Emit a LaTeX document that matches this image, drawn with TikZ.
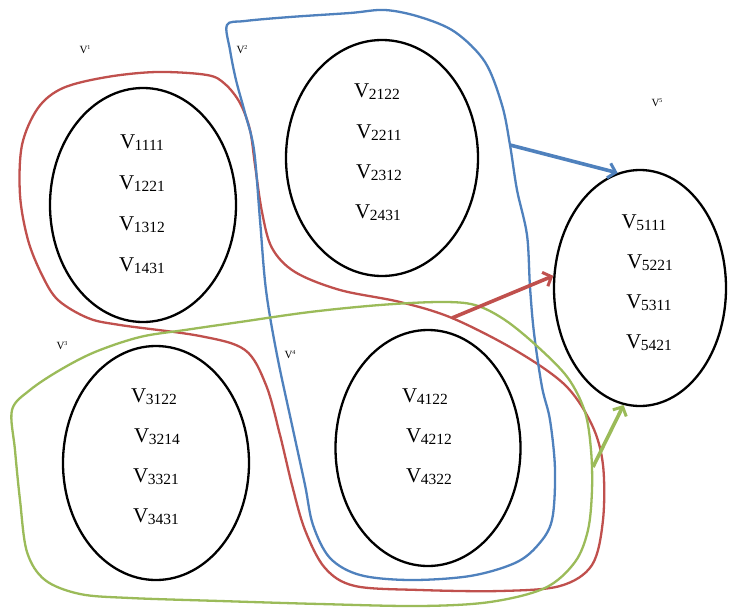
\documentclass[tikz,border=0pt]{standalone}
\usepackage{fontspec}
\setmainfont{Liberation Serif}
\usetikzlibrary{shapes.geometric,arrows.meta}
\definecolor{cred}{RGB}{192,80,77}
\definecolor{cblue}{RGB}{79,129,189}
\definecolor{cgreen}{RGB}{155,187,89}
\newcommand{\vlab}[1]{{\fontsize{21}{21}\selectfont V}\kern-0.5pt{\fontsize{15.5}{15.5}\selectfont\raisebox{-2pt}{#1}}}
\newcommand{\vsup}[1]{{\fontsize{11}{11}\selectfont V}\raisebox{4pt}{\fontsize{6}{6}\selectfont #1}}
\tikzset{
  setell/.style={draw=black, line width=2.3pt, ellipse, inner sep=0pt},
  vtext/.style={inner sep=0pt, anchor=center},
  stxt/.style={inner sep=0pt, anchor=center},
  blob/.style={line width=2.3pt},
  conn/.style={line width=3.6pt, -{Straight Barb[length=7pt,width=15pt,line width=3pt]}},
}
\begin{document}
\begin{tikzpicture}[x=1pt,y=-1pt]
\useasboundingbox[fill=white] (0,0) rectangle (731,608);
% ellipses
\node[setell, minimum width=186pt, minimum height=234pt] (e1) at (143,205) {};
\node[setell, minimum width=192pt, minimum height=236pt] (e2) at (382,158) {};
\node[setell, minimum width=186pt, minimum height=234pt] (e3) at (156,463) {};
\node[setell, minimum width=185pt, minimum height=236pt] (e4) at (428,448) {};
\node[setell, minimum width=172pt, minimum height=236pt] (e5) at (640,288) {};
% red blob (V1 and V4)
\draw[blob, cred] plot[smooth cycle, tension=0.55] coordinates {
 (63,88) (107,77) (157,72) (207,75) (225,84) (240,103) (250,130) (255,165) (262,212)
 (272,248) (295,272) (340,290) (400,302) (452,318) (515,350) (565,385) (592,425)
 (603,465) (603,520) (592,565) (560,586) (500,591) (420,590) (355,586) (325,568)
 (305,530) (292,485) (280,435) (266,385) (245,350) (200,336) (120,325) (88,318)
 (58,300) (42,275) (28,240) (20,195) (22,145) (38,108)};
% blue blob (V2 and V4)
\draw[blob, cblue] plot[smooth cycle, tension=0.55] coordinates {
 (227,25) (245,21) (290,17) (350,13) (385,10) (420,17) (455,32) (485,62) (502,105)
 (510,145) (517,190) (527,235) (530,287) (534,333) (542,387) (550,420) (555,470)
 (552,520) (538,545) (515,563) (470,576) (410,580) (360,575) (330,558) (313,525)
 (305,485) (292,425) (277,355) (266,290) (260,220) (254,150) (245,113) (236,80) (230,50)};
% green blob (V3 and V4)
\draw[blob, cgreen] plot[smooth cycle, tension=0.55] coordinates {
 (12,410) (30,390) (60,370) (95,352) (140,337) (185,330) (240,322) (310,312)
 (380,305) (440,302) (475,305) (505,320) (538,347) (568,378) (585,412) (591,450)
 (592,490) (588,530) (575,562) (545,588) (490,602) (420,606) (320,604) (220,601)
 (130,598) (80,594) (45,580) (27,552) (20,500) (15,450)};
% arrow start points on the blobs
\coordinate (bA) at (510,145);
\coordinate (rA) at (452,318);
\coordinate (gA) at (593,467);
\draw[conn, cblue] (bA) -- (e5.101);
\draw[conn, cred] (rA) -- (e5.172);
\draw[conn, cgreen] (gA) -- (e5.262);
% set labels
\node[stxt] (l1) at (85,50) {\vsup{1}};
\node[stxt] (l2) at (242,50) {\vsup{2}};
\node[stxt] (l3) at (62,346) {\vsup{3}};
\node[stxt] (l4) at (290,355) {\vsup{4}};
\node[stxt] (l5) at (657,103) {\vsup{5}};
% element labels
\node[vtext] (a1) at (142,143) {\vlab{1111}};
\node[vtext] (a2) at (142,184) {\vlab{1221}};
\node[vtext] (a3) at (142,225) {\vlab{1312}};
\node[vtext] (a4) at (142,266) {\vlab{1431}};
\node[vtext] (b1) at (377,92) {\vlab{2122}};
\node[vtext] (b2) at (379,133) {\vlab{2211}};
\node[vtext] (b3) at (379,173) {\vlab{2312}};
\node[vtext] (b4) at (378,213) {\vlab{2431}};
\node[vtext] (c1) at (154,397) {\vlab{3122}};
\node[vtext] (c2) at (157,437) {\vlab{3214}};
\node[vtext] (c3) at (156,477) {\vlab{3321}};
\node[vtext] (c4) at (156,517) {\vlab{3431}};
\node[vtext] (d1) at (425,397) {\vlab{4122}};
\node[vtext] (d2) at (429,437) {\vlab{4212}};
\node[vtext] (d3) at (429,477) {\vlab{4322}};
\node[vtext] (f1) at (644,223) {\vlab{5111}};
\node[vtext] (f2) at (650,263) {\vlab{5221}};
\node[vtext] (f3) at (649,303) {\vlab{5311}};
\node[vtext] (f4) at (649,343) {\vlab{5421}};
\end{tikzpicture}
\end{document}
